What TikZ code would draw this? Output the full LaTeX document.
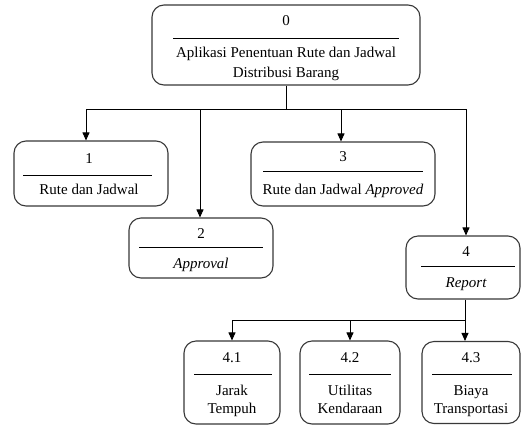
\documentclass[tikz,border=0pt]{standalone}
\usepackage{fontspec}
\setmainfont{Liberation Serif}
\usetikzlibrary{arrows.meta}
\begin{document}
\begin{tikzpicture}[x=1pt,y=-1pt,
  procbox/.style={draw=black!78,line width=1.1pt,rounded corners=12pt,inner sep=0pt,fill=white},
  sepline/.style={draw=black,line width=0.9pt},
  lbl/.style={anchor=base,inner sep=0pt,font=\fontsize{15}{18}\selectfont},
  link/.style={draw=black,line width=0.9pt},
  linkarr/.style={link,-{Triangle[length=8pt,width=7pt]}}]
\useasboundingbox (0,0) rectangle (521,426);

% process boxes
\node[procbox,minimum width=268pt,minimum height=80pt] (b0) at (286,45) {};
\node[procbox,minimum width=154pt,minimum height=65pt] (b1) at (91,173.5) {};
\node[procbox,minimum width=144pt,minimum height=60pt] (b2) at (201,248) {};
\node[procbox,minimum width=184pt,minimum height=64pt] (b3) at (343,174) {};
\node[procbox,minimum width=114pt,minimum height=63pt] (b4) at (463,267.5) {};
\node[procbox,minimum width=96pt,minimum height=83pt] (b41) at (232,382.5) {};
\node[procbox,minimum width=100pt,minimum height=83pt] (b42) at (350,382.5) {};
\node[procbox,minimum width=98pt,minimum height=82pt] (b43) at (471,382.5) {};

% separators between number and name
\draw[sepline] (173,38) -- (399,38);
\draw[sepline] (23,175) -- (152,175);
\draw[sepline] (139,247) -- (263,247);
\draw[sepline] (263,171) -- (423,171);
\draw[sepline] (421,266) -- (515,266);
\draw[sepline] (194,374) -- (272,374);
\draw[sepline] (309,374) -- (391,374);
\draw[sepline] (432,374) -- (512,374);

% labels
\node[lbl] (n0) at (286,25) {0};
\node[lbl] (t0a) at (286,57) {Aplikasi Penentuan Rute dan Jadwal};
\node[lbl] (t0b) at (286,77) {Distribusi Barang};
\node[lbl] (n1) at (89,163) {1};
\node[lbl] (t1) at (89,194) {Rute dan Jadwal};
\node[lbl] (n2) at (201,238) {2};
\node[lbl] (t2) at (201,268) {\itshape Approval};
\node[lbl] (n3) at (343,161) {3};
\node[lbl] (t3) at (343,194) {Rute dan Jadwal \textit{Approved}};
\node[lbl] (n4) at (466,256) {4};
\node[lbl] (t4) at (466,287) {\itshape Report};
\node[lbl] (n41) at (232,362) {4.1};
\node[lbl] (t41a) at (232,395) {Jarak};
\node[lbl] (t41b) at (232,413) {Tempuh};
\node[lbl] (n42) at (350,362) {4.2};
\node[lbl] (t42a) at (350,395) {Utilitas};
\node[lbl] (t42b) at (350,413) {Kendaraan};
\node[lbl] (n43) at (471,362) {4.3};
\node[lbl] (t43a) at (471,395) {Biaya};
\node[lbl] (t43b) at (471,413) {Transportasi};

% first-level bus
\coordinate (j0) at (286,109);
\coordinate (busL) at (86,109);
\coordinate (bus2) at (200,109);
\coordinate (bus3) at (341,109);
\coordinate (busR) at (466,109);
\draw[link] (b0.south) -- (j0);
\draw[link] (busL) -- (busR);
\draw[linkarr] (busL) -- (busL |- b1.north);
\draw[linkarr] (bus2) -- (bus2 |- b2.north);
\draw[linkarr] (bus3) -- (bus3 |- b3.north);
\draw[linkarr] (busR) -- (busR |- b4.north);

% second-level bus
\coordinate (j4) at (465,320);
\coordinate (bus41) at (232,320);
\coordinate (bus42) at (350,320);
\draw[link] (b4.south -| j4) -- (j4);
\draw[link] (bus41) -- (j4);
\draw[linkarr] (bus41) -- (bus41 |- b41.north);
\draw[linkarr] (bus42) -- (bus42 |- b42.north);
\draw[linkarr] (j4) -- (j4 |- b43.north);
\end{tikzpicture}
\end{document}
